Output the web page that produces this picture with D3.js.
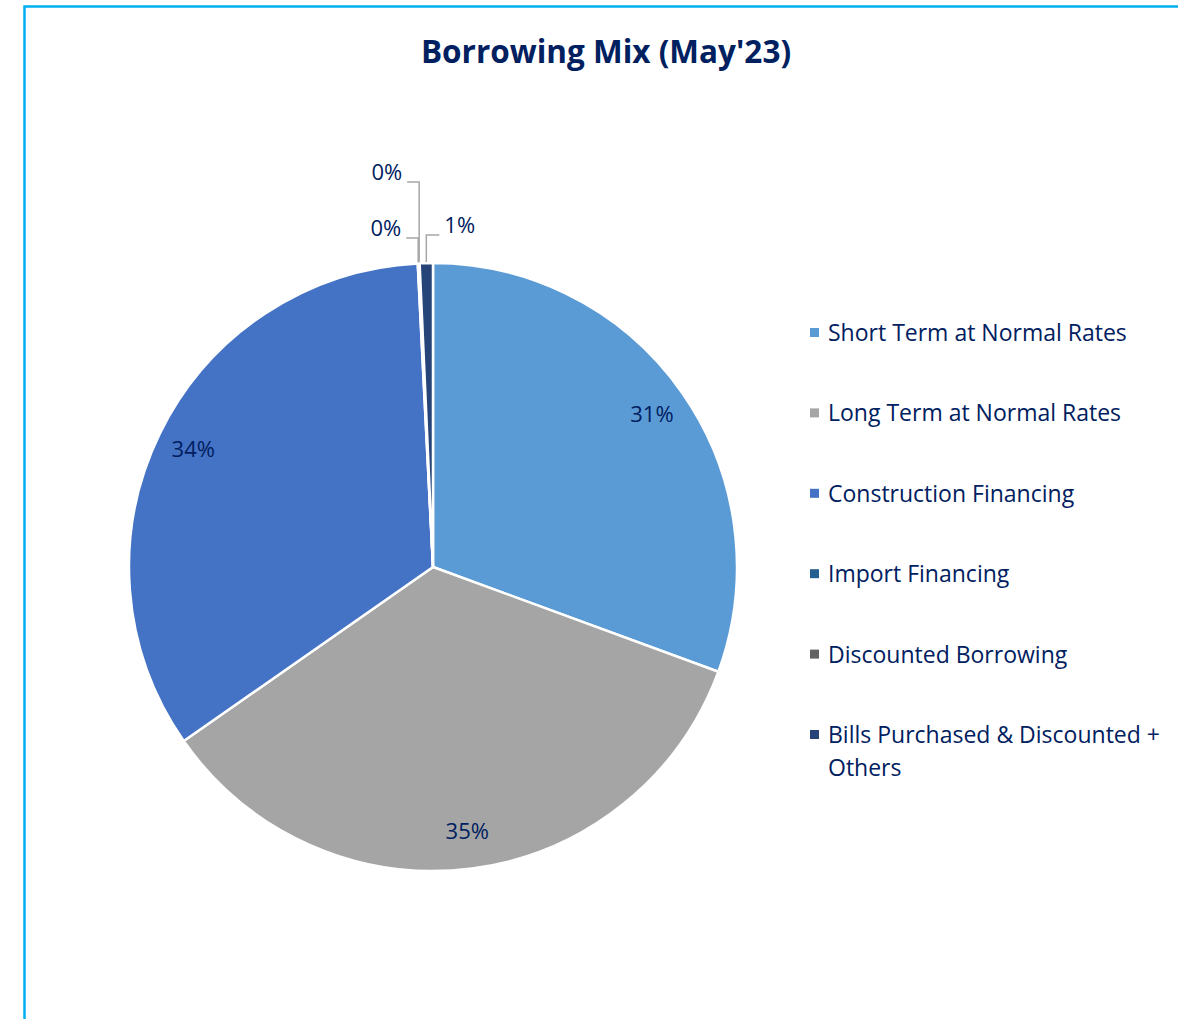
<!DOCTYPE html>
<html lang="en">
<head>
	<meta charset="UTF-8">
	<title>Borrowing Mix (May'23)</title>
	<script src="https://cdn.jsdelivr.net/npm/d3@7"></script>
	<style>
		*{
			margin: 0px;
			box-sizing: border-box;
		}
		html,body{
			height:100%;
			overflow: hidden;
			background: #fff;
		}
		text{
			font-family: "Open Sans", Lato, sans-serif;
			fill: #002060;
		}
		.title{
			font-size: 31.5px;
			font-weight: bold;
		}
		.legend text{
			font-size: 23px;
		}
		.lbl{
			font-size: 22px;
		}
		.leader{
			fill: none;
			stroke: #A6A6A6;
			stroke-width: 1.5;
		}
	</style>
</head>
<body>
	<svg id="svg"></svg>
	<script>
		var categories = ["Short Term at Normal Rates", "Long Term at Normal Rates", "Construction Financing",
			"Import Financing", "Discounted Borrowing", "Bills Purchased & Discounted + Others"];
		var shares = [30.6, 34.7, 33.9, 0.05, 0.05, 0.7];
		var labels = ["31%", "35%", "34%", "0%", "0%", "1%"];
		var colors = ["#5B9BD5", "#A5A5A5", "#4472C4", "#255E91", "#636363", "#264478"];

		var w = 1178, h = 1019,
			svg = d3.select("#svg").attr("width", w).attr("height", h),
			cx = 433, cy = 567, R = 304;

		// frame
		svg.append("path")
			.attr("d", "M24.5," + h + " V6.5 H" + w)
			.attr("fill", "none")
			.attr("stroke", "#00B0F0")
			.attr("stroke-width", 2.5);

		svg.append("text").attr("class", "title")
			.attr("x", 606).attr("y", 63)
			.attr("text-anchor", "middle")
			.text("Borrowing Mix (May'23)");

		var data = categories.map(function(c, i) {
			return {name: c, value: shares[i], label: labels[i], color: colors[i]};
		});

		var pie = d3.pie().sort(null).value(function(d) { return d.value; });
		var arc = d3.arc().innerRadius(0).outerRadius(R);
		var labelArc = d3.arc().innerRadius(267 * 2 - R).outerRadius(R);
		var arcs = pie(data);

		var g = svg.append("g").attr("transform", "translate(" + cx + "," + cy + ")");
		g.selectAll("path.slice")
			.data(arcs)
			.enter().append("path")
			.attr("class", "slice")
			.attr("d", arc)
			.attr("fill", function(d) { return d.data.color; })
			.attr("stroke", "#fff")
			.attr("stroke-width", 2.5)
			.attr("stroke-linejoin", "round");

		// labels inside big slices
		g.selectAll("text.lbl.in")
			.data(arcs.filter(function(d) { return d.data.value >= 5; }))
			.enter().append("text")
			.attr("class", "lbl in")
			.attr("transform", function(d) { return "translate(" + labelArc.centroid(d) + ")"; })
			.attr("text-anchor", "middle")
			.attr("dy", "0.35em")
			.text(function(d) { return d.data.label; });

		// callouts for the tiny slices: rise above the pie, then step sideways
		var callout = {3: {rise: 25, side: -12}, 4: {rise: 81, side: -12}, 5: {rise: 28, side: 13}};
		arcs.forEach(function(d, i) {
			var c = callout[i];
			if (!c) return;
			var a = (d.startAngle + d.endAngle) / 2,
				x0 = R * Math.sin(a), y0 = -R * Math.cos(a) - 1,
				y1 = -R - c.rise, x2 = x0 + c.side;
			g.append("path").attr("class", "leader")
				.attr("d", "M" + x0 + "," + y0 + " V" + y1 + " H" + x2);
			g.append("text").attr("class", "lbl")
				.attr("x", x2 + (c.side < 0 ? -5 : 5))
				.attr("y", y1 - 2)
				.attr("text-anchor", c.side < 0 ? "end" : "start")
				.text(d.data.label);
		});

		// legend
		var legendY = d3.scalePoint().domain(categories).range([333, 735]);
		var lg = svg.append("g").attr("class", "legend");
		var item = lg.selectAll("g").data(data).enter().append("g")
			.attr("transform", function(d) { return "translate(810," + legendY(d.name) + ")"; });
		item.append("rect")
			.attr("x", 0).attr("y", -5)
			.attr("width", 9).attr("height", 9)
			.attr("fill", function(d) { return d.color; });
		item.append("text")
			.attr("x", 18).attr("dy", "0.35em")
			.each(function(d) {
				var t = d3.select(this);
				if (d.name.length > 30) {
					t.append("tspan").attr("x", 18).text("Bills Purchased & Discounted +");
					t.append("tspan").attr("x", 18).attr("dy", 33).text("Others");
				} else {
					t.text(d.name);
				}
			});
	</script>
</body>
</html>
